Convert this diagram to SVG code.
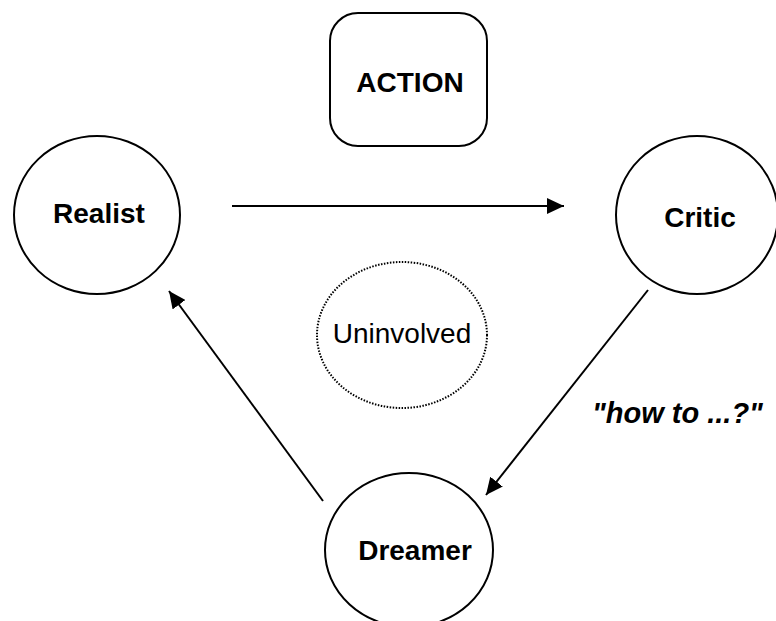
<svg xmlns="http://www.w3.org/2000/svg" width="776" height="621" viewBox="0 0 776 621">
<defs>
<style>
.n{fill:#fff;stroke:#000;stroke-width:2}
.d{fill:#fff;stroke:#000;stroke-width:2;stroke-dasharray:1.5 1.5}
.t{font-family:"Liberation Sans",Arial,sans-serif;font-size:28px;font-weight:bold;text-anchor:middle;fill:#000}
.r{font-weight:normal}
.c{stroke:#000;stroke-width:2;fill:none}
.l{font-family:"Liberation Sans",Arial,sans-serif;font-size:29px;font-weight:bold;font-style:italic;fill:#000}
</style>
<marker id="ah" viewBox="0 0 17 16" refX="17" refY="8" markerWidth="17" markerHeight="16" markerUnits="userSpaceOnUse" orient="auto">
<path d="M0,0 L17,8 L0,16 z" fill="#000"/>
</marker>
</defs>
<rect width="776" height="621" fill="#fff"/>
<g id="action"><rect class="n" x="330" y="13" width="157" height="133" rx="28" ry="28"/><text class="t" x="410" y="92">ACTION</text></g>
<g id="realist"><ellipse class="n" cx="97" cy="215" rx="83" ry="79"/><text class="t" x="99" y="223">Realist</text></g>
<g id="critic"><ellipse class="n" cx="697" cy="215" rx="81" ry="79"/><text class="t" x="700" y="227">Critic</text></g>
<g id="uninvolved"><ellipse class="d" cx="402" cy="335" rx="85" ry="73"/><text class="t r" x="402" y="343">Uninvolved</text></g>
<g id="dreamer"><ellipse class="n" cx="409" cy="550" rx="84" ry="77"/><text class="t" x="415" y="560">Dreamer</text></g>
<g id="connectors">
<line class="c" x1="232" y1="206" x2="564" y2="206" marker-end="url(#ah)"/>
<line class="c" x1="648" y1="290" x2="486" y2="495" marker-end="url(#ah)"/>
<line class="c" x1="323" y1="501" x2="169" y2="291" marker-end="url(#ah)"/>
<text class="l" x="592" y="423">"how to ...?"</text>
</g>
</svg>
